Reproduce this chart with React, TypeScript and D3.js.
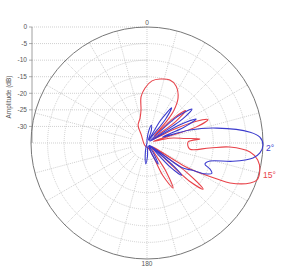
import React from "react";
import * as d3 from "d3";

// polar amplitude pattern, two elevation cuts (2° and 15°)

const W = 300;
const H = 272;
const cx = 147;
const cy = 143;
const R = 116;

const dbTicks = [0, -5, -10, -15, -20, -25, -30];
const ringDb = [-30, -25, -20, -15, -10, -5];
const spokes = [15, 30, 45, 60, 75, 105, 120, 135, 150, 165, 195, 210, 225, 240, 255, 285, 300, 315, 330, 345];

// 2° cut, points in path order (angle deg, amplitude dB)
const angles2 = [0, 9, 14, 19, 26, 31, 35, 38, 42, 49, 53, 56, 59, 61, 64, 67, 69, 73, 78, 84, 87, 91, 95, 98, 102, 106, 110, 112.5, 115, 118, 121, 125, 128, 131, 133, 136, 140, 148, 152, 156, 162, 178, 183, 188, 195, 270];
const gain2 = [-34, -31, -29.5, -31, -34, -27, -22, -26, -34, -23, -18, -22, -34, -24, -18.5, -23, -30, -21.5, -13.4, -3.7, -0.9, 0, -0.8, -2.7, -8.5, -15.2, -16.4, -14.4, -13.4, -15.2, -19, -22, -34, -24, -20.7, -25, -34, -31, -27.8, -31, -34, -31, -28.7, -31, -34, -35];

// 15° cut
const angles15 = [325, 333.4, 344.4, 349.7, 352.6, 358, 364.6, 371.5, 380, 387, 394.6, 399.3, 402, 404, 407, 410, 413, 417, 423, 426, 429, 432, 435, 438, 443.2, 445.7, 448.6, 458, 454.5, 452.8, 455, 458.7, 463.4, 468.6, 471.2, 475.7, 477.2, 479, 481.4, 484, 486.5, 489.4, 492, 495, 506, 510, 514, 520, 580];
const gain15 = [-32, -29, -27.2, -24.9, -21, -18.4, -16.2, -15.3, -14.8, -15.7, -18.5, -22.1, -26, -32, -24, -19.8, -24, -33, -26, -19, -15.3, -19.5, -33, -28, -23.4, -19, -22.6, -22, -16, -10, -3.8, -1.2, 0, 0, -1.6, -7.2, -11.2, -15.7, -20.5, -33, -20, -13.1, -18, -33, -25, -19.3, -24, -33, -34];

const r = d3.scaleLinear().domain([-35, 0]).range([0, R]);
const y = d3.scaleLinear().domain([-35, 0]).range([cy, cy - R]);

const toRad = (a: number) => (a * Math.PI) / 180;

const line = d3
  .lineRadial<[number, number]>()
  .angle((d) => toRad(d[0]))
  .radius((d) => r(d[1]))
  .curve(d3.curveCatmullRomClosed.alpha(0.5));

const font = "'Liberation Sans', Arial, sans-serif";

export default function App() {
  const blue = d3.zip(angles2, gain2) as [number, number][];
  const red = d3.zip(angles15, gain15) as [number, number][];
  return (
    <svg width={W} height={H} style={{ position: "absolute", left: 0, top: 0, background: "#fff" }}>
      {/* horizontal db grid to the left */}
      {dbTicks.map((t) => (
        <g key={t}>
          <line x1={32} x2={cx} y1={y(t)} y2={y(t)} stroke="#bbb" strokeWidth={0.7} strokeDasharray="1,1" />
          <line x1={29} x2={32} y1={y(t)} y2={y(t)} stroke="#888" strokeWidth={0.7} />
          <text x={27} y={y(t) + 2.3} fontSize={6.5} fill="#555" textAnchor="end" fontFamily={font}>
            {t}
          </text>
        </g>
      ))}
      <line x1={32} x2={32} y1={cy - R} y2={cy} stroke="#888" strokeWidth={0.8} />
      <text
        transform={`translate(11,${97}) rotate(-90)`}
        fontSize={6.5}
        fill="#555"
        textAnchor="middle"
        fontFamily={font}
      >
        Amplitude (dB)
      </text>

      <g transform={`translate(${cx},${cy})`}>
        {ringDb.map((d) => (
          <circle key={d} r={r(d)} fill="none" stroke="#bbb" strokeWidth={0.7} strokeDasharray="1,1" />
        ))}
        {spokes.map((a) => (
          <line
            key={a}
            x1={Math.sin(toRad(a)) * r(-30)}
            y1={-Math.cos(toRad(a)) * r(-30)}
            x2={Math.sin(toRad(a)) * R}
            y2={-Math.cos(toRad(a)) * R}
            stroke="#bbb"
            strokeWidth={0.7}
            strokeDasharray="1,1"
          />
        ))}
        <line x1={0} x2={0} y1={-R} y2={R} stroke="#bbb" strokeWidth={0.7} strokeDasharray="1,1" />
        <line x1={-R} x2={R} y1={0} y2={0} stroke="#bbb" strokeWidth={0.7} strokeDasharray="1,1" />
        <circle r={R} fill="none" stroke="#777" strokeWidth={1} />

        <path d={line(red) ?? ""} fill="none" stroke="#e8434a" strokeWidth={1.1} />
        <path d={line(blue) ?? ""} fill="none" stroke="#3a3acd" strokeWidth={1.1} />
      </g>

      <text x={cx} y={cy - R - 2} fontSize={6.5} fill="#555" textAnchor="middle" fontFamily={font}>
        0
      </text>
      <text x={cx} y={cy + R + 7} fontSize={6.5} fill="#555" textAnchor="middle" fontFamily={font}>
        180
      </text>
      <text x={266} y={151} fontSize={8.5} fill="#3a3acd" fontFamily={font}>
        2°
      </text>
      <text x={263} y={178} fontSize={8.5} fill="#e8434a" fontFamily={font}>
        15°
      </text>
    </svg>
  );
}
